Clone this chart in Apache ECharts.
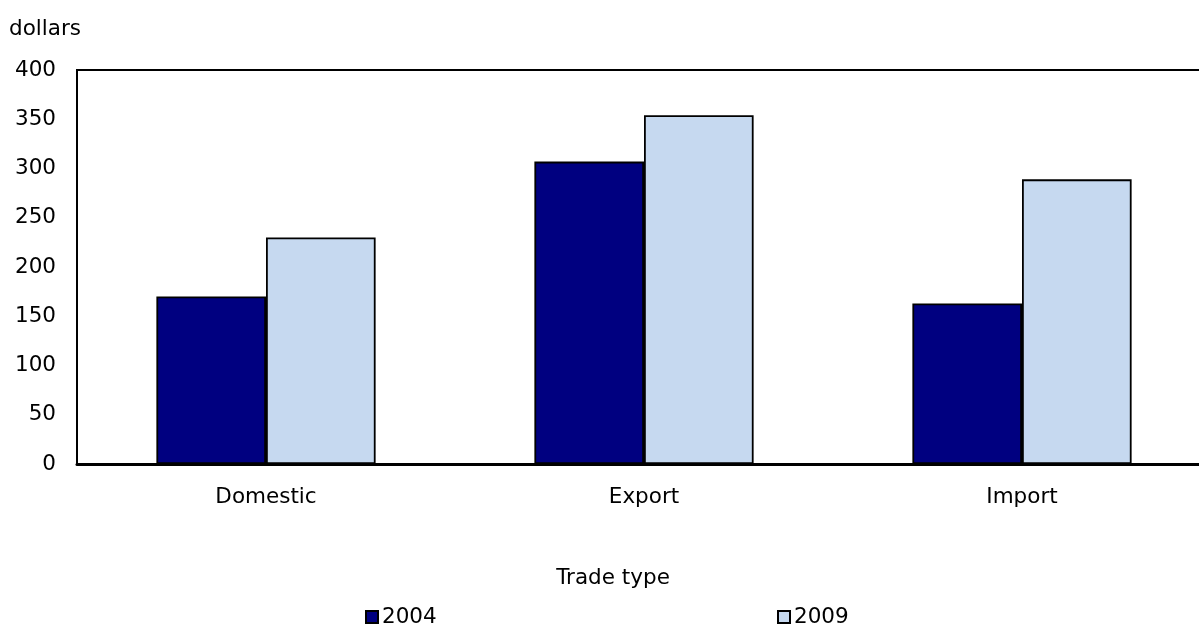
<!DOCTYPE html>
<html>
<head>
<meta charset="utf-8">
<script src="https://cdn.jsdelivr.net/npm/echarts@6/dist/echarts.min.js"></script>
<style>
  html, body { margin: 0; padding: 0; background: #fff; overflow: hidden; }
  #chart { width: 1211px; height: 625px; }
</style>
</head>
<body>
<div id="chart"></div>
<script>
// Average value by trade type, two survey years
const categories = ['Domestic', 'Export', 'Import'];
const values2004 = [170, 307, 163];
const values2009 = [230, 354, 289];
const yTicks = { min: 0, max: 400, interval: 50 };

const FONT = 'DejaVu Sans';
const FS = 21.5;
const chart = echarts.init(document.getElementById('chart'));

const legendBase = {
  top: 601,
  icon: 'rect',
  itemWidth: 12,
  itemHeight: 12,
  itemGap: 0,
  textStyle: { fontFamily: FONT, fontSize: FS, color: '#000', padding: [0, 0, 0, -1] }
};

chart.setOption({
  animation: false,
  backgroundColor: '#ffffff',
  textStyle: { fontFamily: FONT, color: '#000' },
  graphic: [
    {
      type: 'text',
      left: 9,
      top: 18,
      style: { text: 'dollars', fontFamily: FONT, fontSize: FS, fill: '#000' }
    },
    {
      type: 'text',
      x: 613,
      y: 578,
      style: {
        text: 'Trade type', fontFamily: FONT, fontSize: FS, fill: '#000',
        align: 'center', verticalAlign: 'middle'
      }
    }
  ],
  grid: {
    left: 77,
    top: 70,
    right: 0,
    bottom: 161,
    show: true,
    borderColor: '#000',
    borderWidth: 2,
    backgroundColor: 'transparent'
  },
  legend: [
    Object.assign({ data: ['2004'], left: 360 }, legendBase),
    Object.assign({ data: ['2009'], left: 772 }, legendBase)
  ],
  xAxis: {
    type: 'category',
    data: categories,
    axisLine: { lineStyle: { color: '#000', width: 3 } },
    axisTick: { show: false },
    axisLabel: { fontFamily: FONT, fontSize: FS, color: '#000', margin: 22 }
  },
  yAxis: {
    type: 'value',
    min: yTicks.min,
    max: yTicks.max,
    interval: yTicks.interval,
    axisLine: { show: true, lineStyle: { color: '#000', width: 2 } },
    axisTick: { show: false },
    splitLine: { show: false },
    axisLabel: { fontFamily: FONT, fontSize: FS, color: '#000', margin: 21 }
  },
  series: [
    {
      name: '2004',
      type: 'bar',
      data: values2004,
      barGap: '0%',
      barCategoryGap: '42%',
      itemStyle: { color: '#000080', borderColor: '#000', borderWidth: 1.8 }
    },
    {
      name: '2009',
      type: 'bar',
      data: values2009,
      barGap: '0%',
      barCategoryGap: '42%',
      itemStyle: { color: '#c6d9f0', borderColor: '#000', borderWidth: 1.8 }
    }
  ]
});
</script>
</body>
</html>
